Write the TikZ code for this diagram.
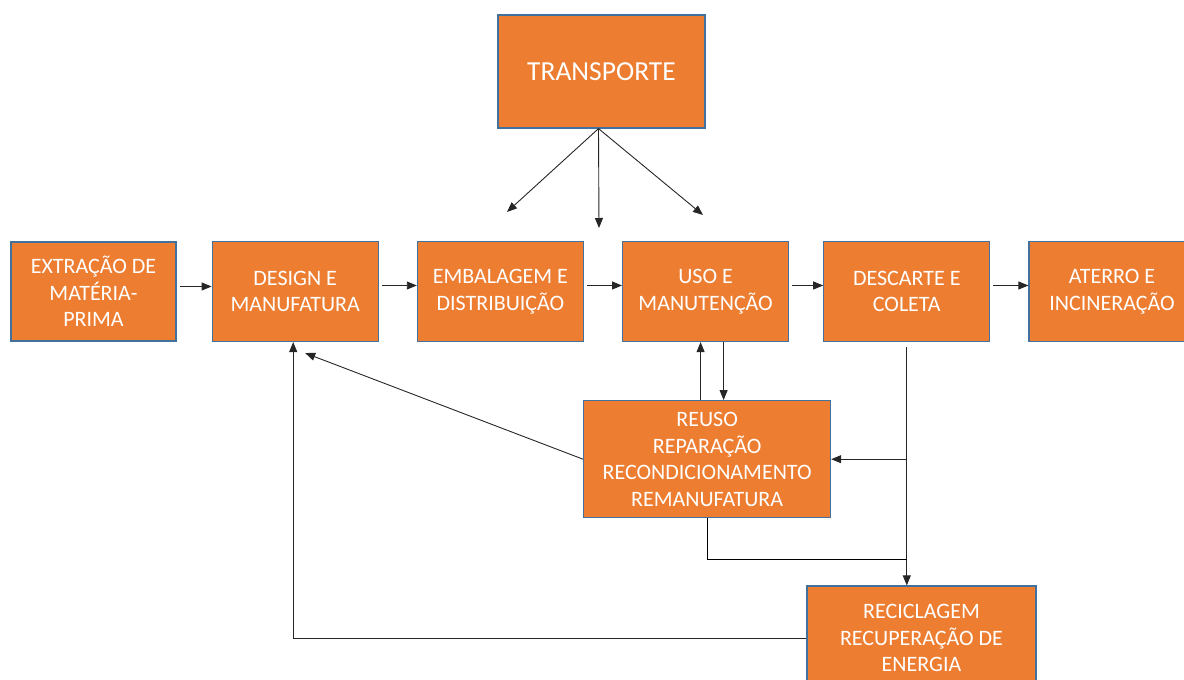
\documentclass[tikz,border=0pt]{standalone}
\usepackage{fontspec}
\setmainfont{Carlito}
\definecolor{lcorange}{HTML}{ED7D31}
\definecolor{lcedge}{HTML}{41719C}
\usepackage{tikz}
\usetikzlibrary{arrows.meta,positioning}

\begin{document}
\begin{tikzpicture}[
  etapa/.style={draw=lcedge,line width=1.2pt,fill=lcorange,text=white,align=center,
    font=\fontsize{22}{26.5}\selectfont,inner sep=0pt,minimum width=166pt,minimum height=100pt},
  arr/.style={-{Triangle[length=10pt,width=8pt]},line width=0.9pt,black!85}]
  \useasboundingbox (0,0) rectangle (1184pt,680pt);
  % linha principal do ciclo de vida
  \node[etapa,minimum width=165pt,minimum height=99pt] (extr) at (93.5pt,388.5pt)
    {EXTRAÇÃO DE\\MATÉRIA-\\PRIMA};
  \node[etapa,right=35pt of extr] (design) {DESIGN E\\MANUFATURA};
  \node[etapa,right=38pt of design] (emb) {EMBALAGEM E\\DISTRIBUIÇÃO};
  \node[etapa,right=38pt of emb] (uso) {USO E\\MANUTENÇÃO};
  \node[etapa,right=34pt of uso] (desc) {DESCARTE E\\COLETA};
  \node[etapa,right=38pt of desc] (aterro) {ATERRO E\\INCINERAÇÃO};
  \node[etapa,minimum width=207pt,minimum height=113pt,font=\fontsize{27.5}{32}\selectfont]
    (transp) at (601.5pt,608.5pt) {TRANSPORTE};
  \node[etapa,minimum width=247pt,minimum height=117pt,below=58pt of uso,xshift=1.5pt] (reuso)
    {REUSO\\REPARAÇÃO\\RECONDICIONAMENTO\\REMANUFATURA};
  \node[etapa,minimum width=229pt,minimum height=104pt] (recic) at (921.5pt,42pt)
    {RECICLAGEM\\RECUPERAÇÃO DE\\ENERGIA};
  % pontas livres das setas do transporte
  \coordinate (tr1) at (507pt,468pt);
  \coordinate (tr2) at (599pt,452pt);
  \coordinate (tr3) at (703pt,465pt);
  \coordinate (dtip) at ([xshift=10pt,yshift=-11pt]design.south);
  \coordinate (jlow) at ([yshift=26pt]reuso.south |- recic.north);
  \draw[arr] ([yshift=5pt,xshift=3pt]extr.east) -- ([yshift=5pt]design.west);
  \draw[arr] ([yshift=6pt,xshift=3pt]design.east) -- ([yshift=6pt]emb.west);
  \draw[arr] ([yshift=6pt,xshift=3pt]emb.east) -- ([yshift=6pt]uso.west);
  \draw[arr] ([yshift=6pt,xshift=3pt]uso.east) -- ([yshift=6pt]desc.west);
  \draw[arr] ([yshift=6pt,xshift=3pt]desc.east) -- ([yshift=6pt]aterro.west);
  \draw[arr] ([xshift=-3pt]transp.south) -- (tr1);
  \draw[arr] ([xshift=-3pt]transp.south) -- (tr2);
  \draw[arr] ([xshift=-3pt]transp.south) -- (tr3);
  \draw[arr] ([xshift=18pt]uso.south) -- ([xshift=18pt]uso.south |- reuso.north);
  \draw[arr] ([xshift=-5pt]uso.south |- reuso.north) -- ([xshift=-5pt]uso.south);
  \draw[arr] (reuso.west) -- (dtip);
  \draw[arr] ([yshift=-5pt]desc.south) -- (desc.south |- recic.north);
  \draw[arr] (desc.south |- reuso.east) -- (reuso.east);
  \draw[line width=0.9pt] (reuso.south) -- (jlow) -- (jlow -| desc.south);
  \draw[arr] (recic.west) -| ([xshift=-2pt]design.south);
\end{tikzpicture}
\end{document}
